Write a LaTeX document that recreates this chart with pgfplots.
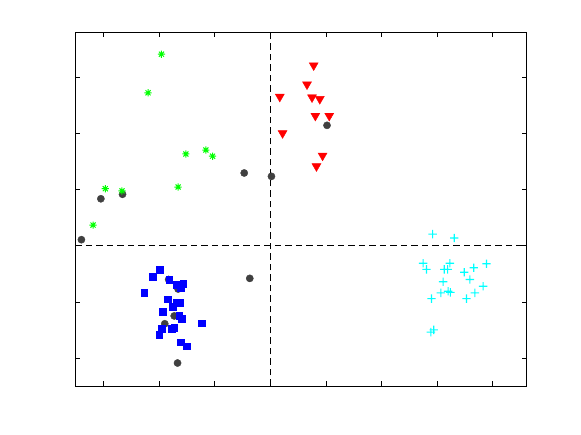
\documentclass[border=0pt]{standalone}
\usepackage{pgfplots}
\pgfplotsset{compat=1.18}
\pgfdeclareplotmark{mstar}{%
  \pgfpathmoveto{\pgfqpoint{-\pgfplotmarksize}{0pt}}\pgfpathlineto{\pgfqpoint{\pgfplotmarksize}{0pt}}%
  \pgfpathmoveto{\pgfqpoint{0pt}{-\pgfplotmarksize}}\pgfpathlineto{\pgfqpoint{0pt}{\pgfplotmarksize}}%
  \pgfpathmoveto{\pgfqpoint{-0.7\pgfplotmarksize}{-0.7\pgfplotmarksize}}\pgfpathlineto{\pgfqpoint{0.7\pgfplotmarksize}{0.7\pgfplotmarksize}}%
  \pgfpathmoveto{\pgfqpoint{-0.7\pgfplotmarksize}{0.7\pgfplotmarksize}}\pgfpathlineto{\pgfqpoint{0.7\pgfplotmarksize}{-0.7\pgfplotmarksize}}%
  \pgfusepathqstroke}
\pgfdeclareplotmark{mplus}{%
  \pgfpathrectangle{\pgfqpoint{-\pgfplotmarksize}{-0.55pt}}{\pgfqpoint{2\pgfplotmarksize}{1.1pt}}%
  \pgfpathrectangle{\pgfqpoint{-0.55pt}{-\pgfplotmarksize}}{\pgfqpoint{1.1pt}{2\pgfplotmarksize}}%
  \pgfusepathqfill}
\definecolor{dgrey}{RGB}{64,64,64}
\definecolor{mgreen}{RGB}{0,255,0}
\definecolor{mred}{RGB}{255,0,0}
\definecolor{mblue}{RGB}{0,0,255}
\definecolor{mcyan}{RGB}{0,255,255}
\begin{document}
\begin{tikzpicture}
\path[use as bounding box] (0,0) rectangle (581pt,435pt);
\begin{axis}[
  at={(75.3pt,49pt)}, anchor=south west,
  width=451.2pt, height=353.7pt, scale only axis,
  xmin=-3.51, xmax=4.61, ymin=-2.5, ymax=3.81,
  xtick={-3,...,4}, ytick={-2,...,3},
  xticklabels={}, yticklabels={},
  tick align=inside, major tick length=4.5pt,
  axis line style={line width=0.8pt}, every tick/.style={black, line width=0.8pt},
  clip=false,
]
\draw[black, line width=1pt, dash pattern=on 6.5pt off 4pt] (axis cs:0,-2.5) -- (axis cs:0,3.81);
\draw[black, line width=1pt, dash pattern=on 6.5pt off 4pt] (axis cs:-3.51,0) -- (axis cs:4.61,0);
% grey circles
\addplot[only marks, mark=*, mark size=3.6pt, color=dgrey] coordinates {
(-3.05,0.84) (-2.66,0.92) (-0.47,1.30) (0.02,1.24) (1.02,2.15) (-3.40,0.11)
(-0.37,-0.58) (-1.83,-0.60) (-1.66,-0.77) (-1.73,-1.25) (-1.90,-1.39) (-1.67,-2.09)
};
% green asterisks
\addplot[only marks, mark=mstar, mark size=3.6pt, color=mgreen, line width=1pt] coordinates {
(-1.96,3.42) (-2.20,2.73) (-1.52,1.64) (-1.16,1.71) (-1.04,1.60) (-1.66,1.05)
(-2.97,1.02) (-2.67,0.98) (-3.19,0.37)
};
% red triangles
\addplot[only marks, mark=triangle*, mark size=5.2pt, mark options={rotate=180}, color=mred] coordinates {
(0.78,3.22) (0.66,2.88) (0.17,2.66) (0.75,2.65) (0.89,2.62) (0.81,2.32)
(1.06,2.32) (0.22,2.01) (0.94,1.61) (0.83,1.42)
};
% blue squares
\addplot[only marks, mark=square*, mark size=3.4pt, color=mblue] coordinates {
(-1.99,-0.43) (-2.12,-0.55) (-1.82,-0.60) (-1.68,-0.70) (-1.57,-0.68) (-1.61,-0.74)
(-2.27,-0.84) (-1.84,-0.95) (-1.68,-1.02) (-1.63,-1.02) (-1.76,-1.08) (-1.94,-1.18)
(-1.64,-1.25) (-1.59,-1.30) (-1.23,-1.38) (-1.96,-1.48) (-2.00,-1.59) (-1.78,-1.48)
(-1.73,-1.46) (-1.61,-1.72) (-1.51,-1.79)
};
% cyan plus
\addplot[only marks, mark=mplus, mark size=4.2pt, color=mcyan, fill=mcyan] coordinates {
(2.92,0.21) (3.31,0.14) (2.75,-0.31) (2.81,-0.42) (3.23,-0.31) (3.13,-0.42)
(3.19,-0.42) (3.49,-0.47) (3.66,-0.39) (3.89,-0.32) (3.59,-0.60) (3.11,-0.64)
(3.83,-0.72) (3.07,-0.84) (3.20,-0.81) (3.24,-0.83) (3.68,-0.84) (2.90,-0.94)
(3.53,-0.94) (2.94,-1.50) (2.89,-1.54)
};
\end{axis}
\end{tikzpicture}
\end{document}
